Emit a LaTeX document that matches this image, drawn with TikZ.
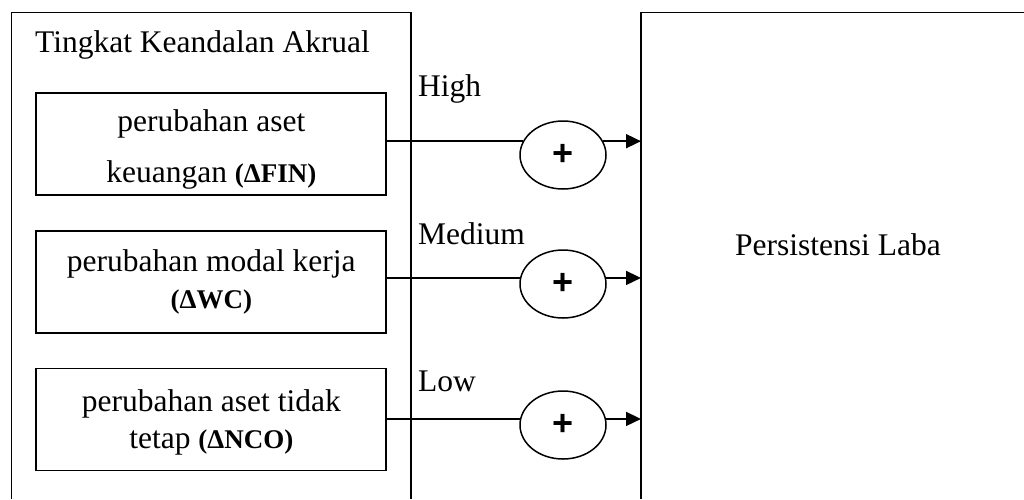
\documentclass[tikz,border=0pt]{standalone}
\usepackage{fontspec}
\setmainfont{Liberation Serif}
\newfontfamily\plusfont{Liberation Sans}
\usetikzlibrary{shapes.geometric,arrows.meta}
\tikzset{
  kotak/.style={draw, line width=1.7pt, minimum width=350pt, minimum height=102pt, align=center, font=\fontsize{31.5}{37}\selectfont},
  bulat/.style={draw, ellipse, line width=1.5pt, minimum width=86pt, minimum height=68pt, inner sep=0pt, font=\plusfont\bfseries\fontsize{36}{40}\selectfont},
  teks/.style={font=\fontsize{31.5}{37}\selectfont, inner sep=0pt},
  garis/.style={line width=1.7pt},
  panah/.style={line width=1.7pt, -{Triangle[length=15pt,width=14pt]}}
}
\newcommand{\kode}[1]{{\fontsize{27}{31}\selectfont\bfseries #1}}

\begin{document}
\begin{tikzpicture}[x=1pt,y=-1pt]
\useasboundingbox (0,0) rectangle (1024,499);
\draw[garis] (11.5,499) -- (11.5,12.5) -- (411,12.5) -- (411,499);
\coordinate (laba) at (641,12.5);
\draw[garis] (641,499) -- (laba) -- (1024,12.5);
\node[teks, anchor=base west] (judul) at (35,52) {Tingkat Keandalan Akrual};
\node[teks, anchor=base] (persistensi) at (838,255) {Persistensi Laba};
\node[kotak] (fin) at (211.3,144) {\rule{0pt}{33pt}perubahan aset\\[14pt]keuangan \kode{(ΔFIN)}};
\node[kotak] (wc) at (211.3,282) {perubahan modal kerja\\\kode{(ΔWC)}};
\node[kotak] (nco) at (211.3,419.5) {\rule{0pt}{28pt}perubahan aset tidak\\tetap \kode{(ΔNCO)}};
\node[bulat] (high) at (563,155) {+};
\node[bulat] (medium) at (563,284) {+};
\node[bulat] (low) at (563,425) {+};
\node[teks, anchor=base west] (lhigh) at (418,96) {High};
\node[teks, anchor=base west] (lmedium) at (418,244) {Medium};
\node[teks, anchor=base west] (llow) at (418,391) {Low};
\draw[garis] (fin.east |- high.161) -- (high.161);
\draw[garis] (wc.east |- medium.172) -- (medium.172);
\draw[garis] (nco.east |- low.172) -- (low.172);
\draw[panah] (high.19) -- (high.19 -| laba);
\draw[panah] (medium.8) -- (medium.8 -| laba);
\draw[panah] (low.8) -- (low.8 -| laba);
\end{tikzpicture}
\end{document}
